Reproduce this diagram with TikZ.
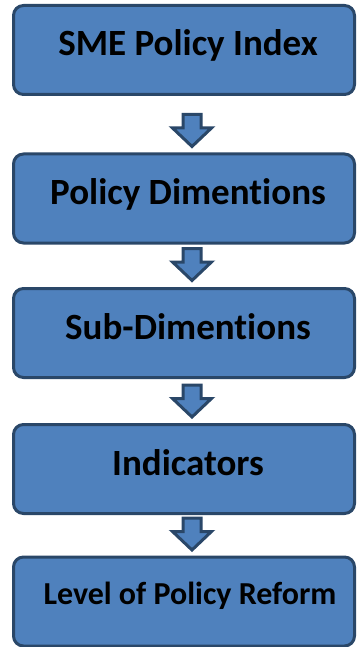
\documentclass[tikz,border=0pt]{standalone}
\usepackage{fontspec}
\setmainfont[Ligatures={NoCommon}]{Carlito}
\begin{document}
\definecolor{stagefill}{HTML}{4F81BD}
\definecolor{stageline}{HTML}{2A4768}
\begin{tikzpicture}[x=1pt,y=-1pt,
  stage/.style={draw=stageline, fill=stagefill, line width=3pt,
    rounded corners=10pt, minimum width=341pt, minimum height=89pt,
    inner sep=0pt, font=\bfseries\fontsize{37}{42}\selectfont,
    text height=24pt, text depth=12pt,
    execute at begin node=\hspace*{8pt}},
  smallstage/.style={stage, font=\bfseries\fontsize{32}{37}\selectfont,
    text height=20pt, text depth=15pt,
    execute at begin node=\hspace*{4pt}},
  arrowline/.style={draw=stageline, fill=stagefill, line width=3pt, line join=miter},
  downarrow/.pic={\path[arrowline] (-9,0) -- (9,0) -- (9,13.5) -- (19.5,13.5)
    -- (0,32) -- (-19.5,13.5) -- (-9,13.5) -- cycle;}]
\useasboundingbox (0,0) rectangle (356,647);
% the five stages, top to bottom
\node[stage] (b1) at (184,50) {SME Policy Index};
\node[stage] (b2) at (184,198.5) {Policy Dimentions};
\node[stage] (b3) at (184,333) {Sub-Dimentions};
\node[stage] (b4) at (184,469) {Indicators};
\node[smallstage] (b5) at (184,601.5) {Level of Policy Reform};
% block arrows between consecutive stages
\coordinate (a1) at ([xshift=8pt,yshift=-18.5pt]b1.south);
\coordinate (a2) at ([xshift=8pt,yshift=-4pt]b2.south);
\coordinate (a3) at ([xshift=8pt,yshift=-6pt]b3.south);
\coordinate (a4) at ([xshift=8pt,yshift=-3pt]b4.south);
\foreach \a in {a1,a2,a3,a4} \pic at (\a) {downarrow};
\end{tikzpicture}
\end{document}
